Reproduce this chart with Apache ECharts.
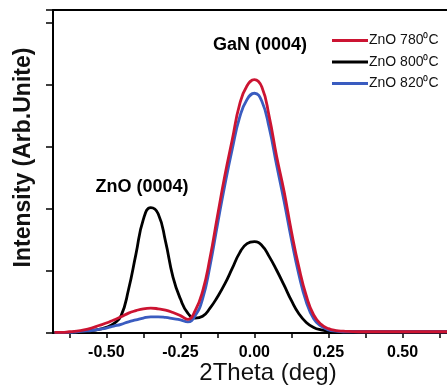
<!DOCTYPE html>
<html>
<head>
<meta charset="utf-8">
<script src="https://cdn.jsdelivr.net/npm/echarts@6/dist/echarts.min.js"></script>
<style>
  html, body { margin: 0; padding: 0; background: #fff; }
  #chart { width: 447px; height: 388px; }
</style>
</head>
<body>
<div id="chart"></div>
<script>
// 2Theta positions (deg)
const theta = [-0.675, -0.65, -0.625, -0.6, -0.575, -0.55, -0.525, -0.5, -0.475, -0.45,
  -0.425, -0.4, -0.375, -0.35, -0.325, -0.3, -0.275, -0.25, -0.225, -0.2,
  -0.175, -0.15, -0.125, -0.1, -0.075, -0.05, -0.025, 0, 0.025, 0.05,
  0.075, 0.1, 0.125, 0.15, 0.175, 0.2, 0.225, 0.25, 0.275, 0.3,
  0.35, 0.4, 0.45, 0.5, 0.55, 0.6, 0.65]

const zno780 = [0.01, 0.01, 0.02, 0.03, 0.05, 0.08, 0.12, 0.16, 0.21, 0.26,
  0.32, 0.36, 0.39, 0.40, 0.39, 0.37, 0.33, 0.28, 0.22, 0.36,
  0.67, 1.21, 1.88, 2.53, 3.11, 3.68, 3.98, 4.08, 3.96, 3.48,
  2.84, 2.28, 1.63, 1.06, 0.60, 0.29, 0.14, 0.07, 0.04, 0.03,
  0.02, 0.02, 0.02, 0.02, 0.02, 0.02, 0.02]

const zno800 = [0.01, 0.01, 0.01, 0.02, 0.03, 0.04, 0.06, 0.09, 0.15, 0.28,
  0.70, 1.27, 1.83, 2.02, 1.92, 1.47, 0.90, 0.55, 0.32, 0.24,
  0.27, 0.40, 0.58, 0.79, 1.04, 1.29, 1.44, 1.47, 1.41, 1.23,
  1.01, 0.77, 0.52, 0.31, 0.17, 0.09, 0.05, 0.03, 0.02, 0.02,
  0.02, 0.02, 0.02, 0.02, 0.02, 0.02, 0.02]

const zno820 = [0.01, 0.01, 0.01, 0.02, 0.03, 0.04, 0.06, 0.08, 0.11, 0.14,
  0.18, 0.21, 0.24, 0.26, 0.26, 0.25, 0.23, 0.21, 0.18, 0.28,
  0.55, 1.08, 1.74, 2.38, 2.96, 3.47, 3.76, 3.86, 3.73, 3.30,
  2.70, 2.12, 1.50, 0.94, 0.50, 0.23, 0.11, 0.05, 0.03, 0.02,
  0.02, 0.02, 0.02, 0.02, 0.02, 0.02, 0.02]

const xTicks = [-0.625, -0.5, -0.375, -0.25, -0.125, 0, 0.125, 0.25, 0.375, 0.5, 0.625]
const xLabels = [-0.5, -0.25, 0, 0.25, 0.5]

const font = 'Liberation Sans, Arial, sans-serif'

function pairs(ys) {
  return theta.map(function(t, i) { return [t, ys[i]] })
}

const chart = echarts.init(document.getElementById('chart'))

function line(name, color, ys) {
  return {
    name: name,
    type: 'line',
    data: pairs(ys),
    smooth: 0.5,
    symbol: 'none',
    lineStyle: { color: color, width: 2.8 },
    itemStyle: { color: color }
  }
}

const option = {
  animation: false,
  grid: { left: 53, right: 0, top: 10, bottom: 55, containLabel: false, outerBoundsMode: 'none' },
  xAxis: [
    {
      type: 'value',
      min: -0.68,
      max: 0.65,
      axisLine: { onZero: false, lineStyle: { color: '#000', width: 2 } },
      axisTick: { show: true, customValues: xTicks, length: 5, lineStyle: { color: '#000', width: 1.5 } },
      axisLabel: {
        customValues: xLabels,
        formatter: function(v) { return v.toFixed(2) },
        color: '#000',
        fontFamily: font,
        fontWeight: 'bold',
        fontSize: 16,
        margin: 12
      },
      splitLine: { show: false },
      name: '2Theta (deg)',
      nameLocation: 'middle',
      nameGap: 28,
      nameMoveOverlap: false,
      nameTextStyle: { color: '#111', fontFamily: font, fontSize: 24, padding: [0, 0, 0, 36] }
    },
    {
      type: 'value',
      position: 'top',
      min: -0.68,
      max: 0.65,
      axisLine: { show: true, onZero: false, lineStyle: { color: '#000', width: 2 } },
      axisTick: { show: false },
      axisLabel: { show: false },
      splitLine: { show: false }
    }
  ],
  yAxis: {
    type: 'value',
    min: 0,
    max: 5.2,
    interval: 1,
    axisLine: { show: true, onZero: false, lineStyle: { color: '#000', width: 2 } },
    axisTick: { show: true, length: 7, lineStyle: { color: '#000', width: 1.5 } },
    axisLabel: { show: false },
    splitLine: { show: false },
    name: 'Intensity (Arb.Unite)',
    nameLocation: 'middle',
    nameGap: 18,
    nameTextStyle: { color: '#111', fontFamily: font, fontSize: 23, fontWeight: 'bold', padding: [0, 0, 0, 28] }
  },
  legend: {
    orient: 'vertical',
    left: 327,
    top: 28,
    icon: 'rect',
    itemWidth: 36,
    itemHeight: 3,
    itemGap: 6.5,
    data: ['ZnO 780⁰C', 'ZnO 800⁰C', 'ZnO 820⁰C'],
    textStyle: { color: '#111', fontFamily: font, fontSize: 14, lineHeight: 15, padding: [0, 0, 0, -4] }
  },
  graphic: [
    {
      type: 'text',
      x: 142,
      y: 187,
      style: { text: 'ZnO (0004)', font: 'bold 18px ' + font, fill: '#000', align: 'center', verticalAlign: 'middle' }
    },
    {
      type: 'text',
      x: 260,
      y: 45,
      style: { text: 'GaN (0004)', font: 'bold 18px ' + font, fill: '#000', align: 'center', verticalAlign: 'middle' }
    }
  ],
  series: [
    line('ZnO 800⁰C', '#000000', zno800),
    line('ZnO 820⁰C', '#3a5cc0', zno820),
    line('ZnO 780⁰C', '#cc1432', zno780)
  ]
}

chart.setOption(option)
</script>
</body>
</html>
